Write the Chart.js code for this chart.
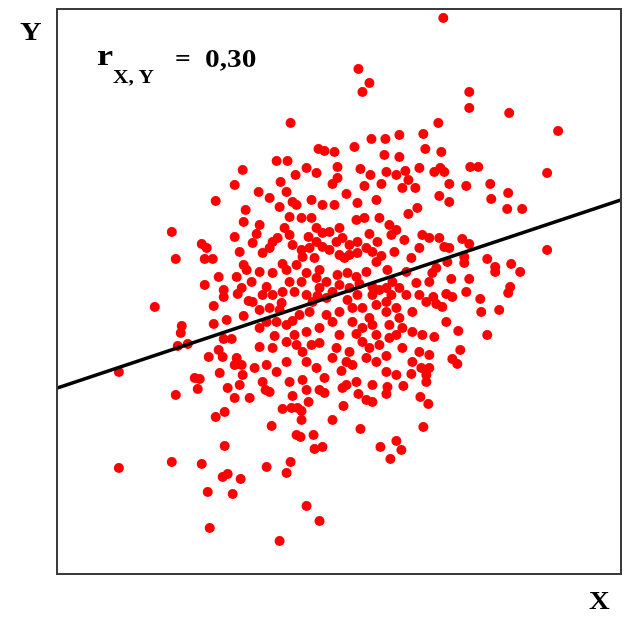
<!DOCTYPE html>
<html>
<head>
<meta charset="utf-8">
<script src="https://cdn.jsdelivr.net/npm/chart.js@4"></script>
<style>
  body { margin: 0; background: #fff; }
  #wrap { position: relative; width: 626px; height: 617px; }
  canvas { position: absolute; left: 0; top: 0; }
  .t { position: absolute; font-family: 'Liberation Serif', 'Times New Roman', serif; font-weight: bold;
       line-height: normal; white-space: nowrap; transform-origin: 0 0; color: #000; }
</style>
</head>
<body>
<div id="wrap">
  <canvas id="c" width="626" height="617"></canvas>
  <span class="t" style="left:20px;top:17px;font-size:26px;transform:scaleX(1.15)">Y</span>
  <span class="t" style="left:589px;top:586px;font-size:26px;transform:scaleX(1.1)">X</span>
  <span class="t" style="left:97px;top:39px;font-size:29px;transform:scaleX(1.25)">r</span>
  <span class="t" style="left:113px;top:66px;font-size:19px;transform:scaleX(1.13)">X, Y</span>
  <span class="t" style="left:175px;top:45px;font-size:24px;transform:scaleX(1.15)">=</span>
  <span class="t" style="left:205px;top:44.5px;font-size:24.5px;transform:scaleX(1.2)">0,30</span>
</div>
<script>
// Sample values (X, Y), in units of the plot box (0..565 on both axes)
const xValues = [
  387,302,313,306,413,413,453,234,382,502,
  343,367,315,329,262,268,278,298,369,385,
  328,343,220,231,186,250,260,239,281,281,
  276,304,314,308,330,340,349,363,352,359,
  346,224,202,213,178,159,414,422,378,384,
  388,491,393,410,434,452,383,393,435,451,
  466,491,373,383,388,393,406,413,408,408,
  391,380,376,373,431,439,439,455,464,413,
  410,454,452,390,396,377,424,386,425,443,
  390,402,378,431,404,396,401,373,373,189,
  187,115,178,145,150,183,119,148,156,187,
  190,162,180,148,167,167,185,181,98,157,
  192,187,170,157,125,124,121,131,167,175,
  162,166,152,180,185,178,62,163,186,138,
  143,183,171,141,119,178,193,168,159,168,
  62,115,145,166,171,184,151,176,153,223,
  250,263,210,234,230,215,240,244,257,258,
  266,226,235,241,245,245,252,276,287,304,
  310,316,330,331,324,340,345,334,364,372,
  367,209,250,263,268,286,347,
  223,236,240,255,266,278,301,320,361,203,
  233,245,255,260,266,273,283,300,308,323,
  333,340,366,196,206,213,216,221,233,236,
  245,246,253,260,266,273,280,283,293,293,
  301,301,310,316,321,335,338,363,203,216,
  230,240,250,263,281,291,300,310,320,331,
  350,360,195,233,245,260,270,283,293,316,
  323,336,343,196,206,216,226,238,250,256,
  270,276,291,301,316,330,340,350,363,370,
  203,213,223,243,253,283,306,320,330,343,
  203,210,220,230,238,250,263,276,283,296,
  306,316,320,333,346,356,366,203,216,230,
  240,246,263,280,293,306,313,323,340,346,
  363,198,210,220,230,250,260,276,290,296,
  310,320,330,340,356,365,370,206,233,246,
  290,300,316,370,
  200,228,252,286,313,348,226,258,288,325,
  355,210,263,303,330,225,261,296,335,356,
  236,270,313,333,218,255,300,330,268,285,
  213,236,302,355,380,395,230,290,325,352
];
const yValues = [
  556,505,491,482,482,466,461,451,451,443,
  439,440,435,435,425,423,422,427,425,422,
  419,417,413,413,404,406,401,399,407,396,
  390,405,399,388,402,399,403,406,394,386,
  386,392,382,376,389,373,407,407,402,406,
  402,401,390,388,390,381,378,372,375,365,
  365,324,336,336,327,326,335,330,317,311,
  312,306,301,292,315,307,302,310,302,295,
  282,287,281,280,277,277,275,267,262,264,
  252,243,237,239,224,215,210,219,206,364,
  352,342,337,330,326,322,315,315,315,309,
  304,297,297,289,284,277,286,280,267,268,
  273,258,254,250,248,241,228,230,235,235,
  224,217,217,216,209,209,202,201,199,196,
  195,189,186,185,179,176,176,162,157,128,
  106,112,110,97,100,95,82,80,46,33,
  68,53,107,112,101,148,139,137,139,125,
  127,165,166,166,163,154,172,154,168,145,
  174,172,180,187,127,133,124,115,177,170,
  147,184,184,184,181,186,188,
  367,372,369,374,369,369,371,374,366,349,
  357,356,356,346,341,342,346,354,356,356,
  349,344,339,331,321,326,332,336,339,329,
  324,317,326,332,327,324,332,319,329,319,
  332,321,326,322,332,339,322,326,302,301,
  304,309,301,304,299,301,297,302,312,304,
  302,291,292,292,292,296,292,289,286,287,
  284,292,286,272,279,279,282,282,279,272,
  276,282,274,279,279,272,266,279,279,272,
  264,266,264,259,262,262,266,269,262,256,
  246,252,252,249,239,242,246,252,239,252,
  246,249,239,249,246,242,239,227,226,232,
  229,222,231,226,222,232,226,229,239,226,
  222,206,209,202,212,212,206,216,212,209,
  216,212,202,199,212,206,199,192,192,194,
  189,192,189,192,
  340,346,337,336,340,334,310,316,316,318,
  316,287,286,290,286,271,278,266,279,262,
  253,259,256,236,238,229,240,218,196,203,
  182,178,180,200,270,295,382,380,390,360
];
// Regression line end points (as drawn in the picture)
const lineX = [0, 565];
const lineY = [186, 374];
const axisMin = 0, axisMax = 565;

const n = Math.min(xValues.length, yValues.length);
const points = [];
for (let i = 0; i < n; i++) points.push({ x: xValues[i], y: yValues[i] });
const linePts = lineX.map((x, i) => ({ x: x, y: lineY[i] }));

const frame = {
  id: 'frame',
  afterDraw(chart) {
    const a = chart.chartArea, ctx = chart.ctx;
    ctx.save();
    ctx.strokeStyle = '#3c3c3c';
    ctx.lineWidth = 2;
    ctx.strokeRect(a.left, a.top, a.right - a.left, a.bottom - a.top);
    ctx.restore();
  }
};

new Chart(document.getElementById('c'), {
  type: 'scatter',
  data: {
    datasets: [
      { type: 'line', data: linePts, borderColor: '#000', borderWidth: 3.5, pointRadius: 0,
        fill: false, tension: 0, order: 0 },
      { data: points, backgroundColor: '#ff0000', borderWidth: 0, pointRadius: 5,
        pointHoverRadius: 5, order: 1 }
    ]
  },
  options: {
    responsive: false,
    animation: false,
    events: [],
    layout: { padding: { left: 57, top: 9, right: 4, bottom: 43 } },
    plugins: { legend: { display: false }, tooltip: { enabled: false } },
    scales: {
      x: { type: 'linear', min: axisMin, max: axisMax, display: false },
      y: { type: 'linear', min: axisMin, max: axisMax, display: false }
    }
  },
  plugins: [frame]
});
</script>
</body>
</html>
